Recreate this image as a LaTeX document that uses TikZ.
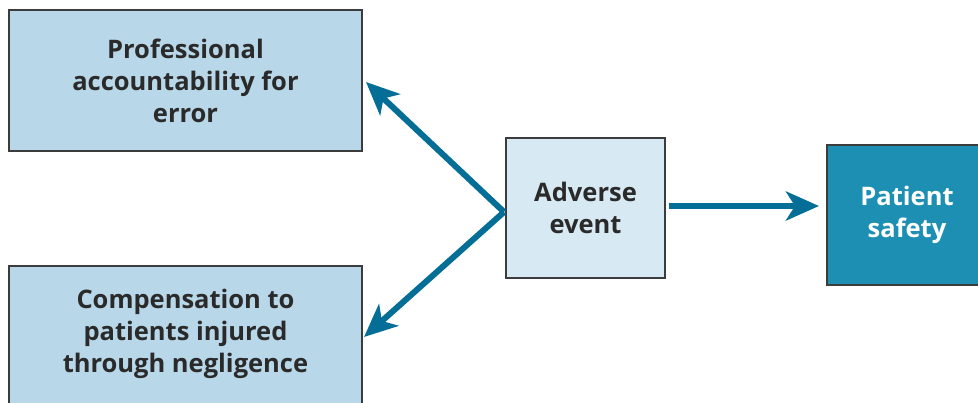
\documentclass[tikz,border=0pt]{standalone}
\usepackage{fontspec}
\setmainfont{Open Sans}[BoldFont={* Bold}]
\usetikzlibrary{arrows.meta}
\definecolor{boxblue}{HTML}{B8D7E8}
\definecolor{paleblue}{HTML}{D7E9F3}
\definecolor{tealbox}{HTML}{1C8FB3}
\definecolor{arrowblue}{HTML}{046E96}
\definecolor{edge}{HTML}{3C3C3C}
\definecolor{ink}{HTML}{2A2A2A}
\begin{document}
\begin{tikzpicture}[x=1pt,y=-1pt,
  label text/.style={font=\fontsize{25.5}{32}\selectfont\bfseries, text=ink, align=center},
  box/.style={draw=edge, line width=1.2pt, inner sep=0pt, label text},
  flow/.style={draw=arrowblue, line width=6pt,
    -{Stealth[length=33pt,width=29pt,inset=9pt]}}]
\useasboundingbox (0,0) rectangle (978,402);
\begin{scope}
\clip (0,0) rectangle (978,402);
\node[box, fill=boxblue, minimum width=353pt, minimum height=141pt]
  (prof) at (185.5,80.5) {Professional\\accountability for\\error};
\node[box, fill=boxblue, minimum width=353pt, minimum height=150pt]
  (comp) at (185.5,341) {};
\node[label text] (comptext) at (185.5,334)
  {Compensation to\\patients injured\\through negligence};
\node[box, fill=paleblue, minimum width=159pt, minimum height=140pt]
  (adv) at (585.5,208) {Adverse\\event};
\node[box, fill=tealbox, text=white, minimum width=160pt, minimum height=140pt]
  (safe) at (907,215) {Patient\\safety};
\end{scope}
\coordinate (tipA) at (366,82);
\coordinate (tipB) at (364,337);
\coordinate (hub) at (504,212);
\draw[flow] (hub) -- (tipA);
\draw[flow] (hub) -- (tipB);
\draw[flow] (adv.east |- 0,206) ++(3,0) -- (819,206);
\end{tikzpicture}
\end{document}
